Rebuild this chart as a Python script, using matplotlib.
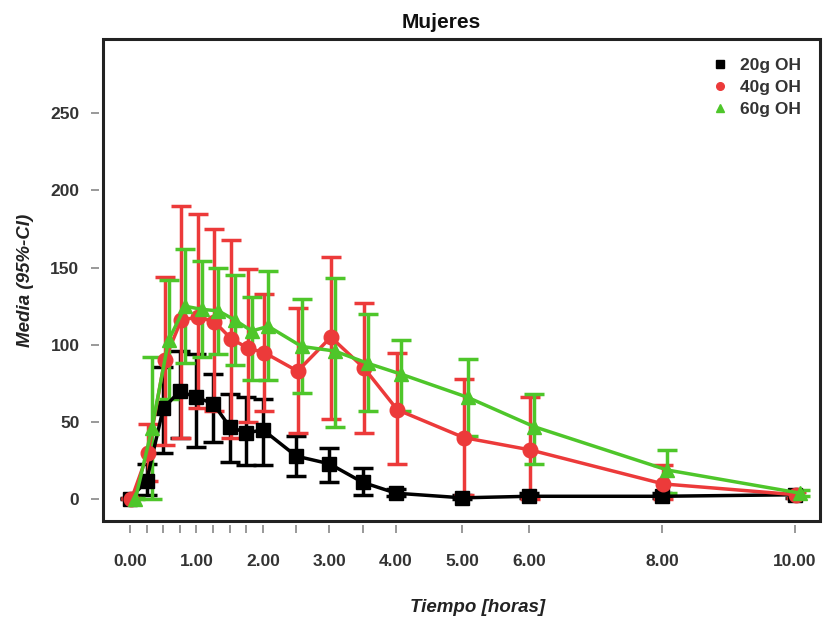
import numpy as np
import matplotlib.pyplot as plt
from matplotlib.patches import Rectangle

plt.rcParams['font.family'] = ['Liberation Sans', 'DejaVu Sans']

# Tiempos de muestreo (horas)
tiempos = [0, 0.25, 0.5, 0.75, 1.0, 1.25, 1.5, 1.75, 2.0, 2.5, 3.0, 3.5, 4, 5, 6, 8, 10]

# 20g OH
media_20 = [0.5, 12, 59, 70, 66, 62, 47, 43, 45, 28, 23, 11, 4, 1, 2, 2, 3]
bajo_20 = [0, 3, 30, 40, 34, 37, 24, 22, 22, 15, 11, 3, 2, 0, 1, 1, 1]
alto_20 = [1, 23, 86, 96, 94, 81, 68, 66, 65, 41, 33, 20, 7, 3, 4, 4, 5]

# 40g OH
media_40 = [0, 30, 90, 116, 118, 115, 104, 98, 95, 83, 105, 85, 58, 40, 32, 10, 3]
bajo_40 = [0, 12, 35, 40, 59, 57, 40, 50, 57, 43, 52, 43, 23, 3, 0, 0, 1]
alto_40 = [1, 49, 144, 190, 185, 175, 168, 149, 133, 124, 157, 127, 95, 78, 66, 22, 5]

# 60g OH
media_60 = [0, 46, 103, 125, 123, 122, 116, 109, 112, 99, 96, 88, 81, 66, 47, 19, 4]
bajo_60 = [0, 0, 65, 88, 92, 94, 87, 77, 77, 69, 47, 57, 57, 41, 23, 4, 2]
alto_60 = [1, 92, 142, 162, 154, 150, 145, 131, 148, 130, 143, 120, 103, 91, 68, 32, 6]

etiquetas_x = ['0.00', '1.00', '2.00', '3.00', '4.00', '5.00', '6.00', '8.00', '10.00']
pos_etiquetas = [0, 1, 2, 3, 4, 5, 6, 8, 10]

series = [
    ('20g OH', media_20, bajo_20, alto_20, 'black', 's', 0.0),
    ('40g OH', media_40, bajo_40, alto_40, '#ec3a3a', 'o', 0.02),
    ('60g OH', media_60, bajo_60, alto_60, '#4ec62a', '^', 0.08),
]

fig = plt.figure(figsize=(8.23, 6.2), dpi=100)
ax = fig.add_axes([103 / 823, 1 - 521 / 620, (820 - 103) / 823, (521 - 39) / 620])

t = np.array(tiempos)
for nombre, m, lo, hi, col, mk, dx in series:
    m = np.array(m)
    err = [m - np.array(lo), np.array(hi) - m]
    ax.errorbar(t + dx, m, yerr=err, color=col, ecolor=col, elinewidth=2.5,
                capsize=7, capthick=2.5, lw=2.5, marker=mk, ms=10.5, mec=col, mfc=col)
    # puntos pequeños para la leyenda
    ax.plot([], [], ls='none', marker=mk, color=col, ms=5.5, label=nombre)

ax.set_xlim(-0.406, 10.376)
ax.set_ylim(-14, 298)

ax.set_xticks(tiempos)
ax.set_xticklabels([etiquetas_x[pos_etiquetas.index(v)] if v in pos_etiquetas else '' for v in tiempos])
ax.set_yticks([0, 50, 100, 150, 200, 250])

for s in ax.spines.values():
    s.set_visible(False)
ax.spines['bottom'].set_position(('outward', 3))
ax.spines['left'].set_position(('outward', 3))
ax.add_patch(Rectangle((0, 0), 1, 1, transform=ax.transAxes, fill=False,
                       lw=2.2, ec='#222222', clip_on=False, zorder=10))

ax.tick_params(axis='x', length=6, width=1.2, color='#888888', pad=15,
               labelsize=12.5, labelcolor='#333333')
ax.tick_params(axis='y', length=6, width=1.2, color='#888888', pad=8,
               labelsize=12.5, labelcolor='#333333')
for lab in ax.get_xticklabels() + ax.get_yticklabels():
    lab.set_fontweight('bold')

ax.set_ylabel('Media (95%-CI)', fontsize=13.5, fontweight='bold', style='italic',
              color='#222222', labelpad=12)
fig.text(478 / 823, 1 - 607 / 620, 'Tiempo [horas]', fontsize=13.5, fontweight='bold',
         style='italic', color='#222222', ha='center', va='center')
fig.text(441 / 823, 1 - 22 / 620, 'Mujeres', fontsize=15, fontweight='bold',
         color='#111111', ha='center', va='center')

leg = ax.legend(loc='upper right', frameon=False, handlelength=0.7, handletextpad=0.8,
                labelspacing=0.4, borderaxespad=0.7,
                prop={'weight': 'bold', 'size': 12.5})
for txt in leg.get_texts():
    txt.set_color('#333333')

plt.savefig('out.png', dpi=100)
